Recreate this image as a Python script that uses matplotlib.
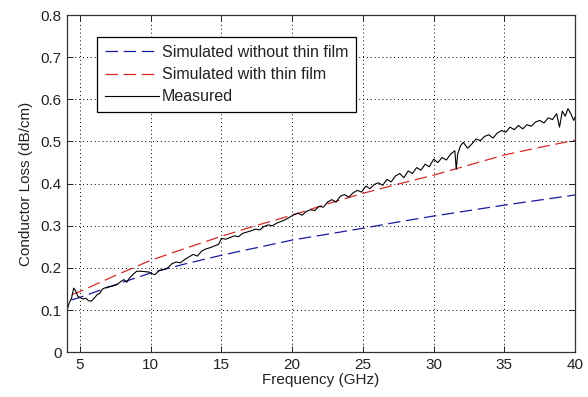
import matplotlib
matplotlib.use('Agg')
import matplotlib.pyplot as plt

plt.rcParams['font.family'] = ['Liberation Sans', 'DejaVu Sans']

# simulated curves
sim_freq = [4.4, 5, 7.5, 10, 12.5, 15, 17.5, 20, 22.5, 25, 27.5, 30, 32.5, 35, 37.5, 40]
sim_no_film = [0.124, 0.130, 0.160, 0.188, 0.210, 0.230, 0.248, 0.266, 0.280,
               0.294, 0.309, 0.323, 0.336, 0.349, 0.361, 0.373]
sim_film = [0.136, 0.144, 0.182, 0.218, 0.247, 0.275, 0.301, 0.325, 0.352,
            0.377, 0.399, 0.420, 0.444, 0.468, 0.486, 0.503]

# measured curve
meas_freq = [4.08, 4.25, 4.4, 4.55, 4.7, 4.85, 5.0, 5.2, 5.4, 5.6, 5.8, 6.0, 6.2, 6.4,
             6.6, 6.8, 7.0, 7.3, 7.6, 7.9, 8.1, 8.3, 8.5, 8.8, 9.0, 9.3, 9.6, 9.9,
             10.1, 10.3, 10.6, 10.9, 11.2, 11.5, 11.8, 12.1, 12.4, 12.7, 13.0, 13.3,
             13.6, 13.9, 14.2, 14.5, 14.8, 15.0, 15.3, 15.6, 15.9, 16.2, 16.5, 16.8,
             17.1, 17.4, 17.7, 18.0, 18.3, 18.6, 18.9, 19.2, 19.5, 19.8, 20.1, 20.4,
             20.7, 21.0, 21.3, 21.6, 21.9, 22.2, 22.5, 22.8, 23.1, 23.4, 23.7, 24.0,
             24.3, 24.6, 24.9, 25.2, 25.5, 25.8, 26.1, 26.4, 26.7, 27.0, 27.3, 27.6,
             27.9, 28.2, 28.5, 28.8, 29.1, 29.4, 29.7, 30.0, 30.3, 30.6, 30.9, 31.2,
             31.5, 31.6, 31.7, 31.9, 32.1, 32.4, 32.7, 33.0, 33.3, 33.6, 33.9, 34.2,
             34.5, 34.8, 35.1, 35.4, 35.7, 36.0, 36.3, 36.6, 36.9, 37.2, 37.5, 37.8,
             38.1, 38.4, 38.7, 38.9, 39.1, 39.3, 39.5, 39.7, 39.9, 40.0]
meas_loss = [0.100, 0.118, 0.128, 0.152, 0.145, 0.132, 0.130, 0.126, 0.128, 0.122,
             0.121, 0.128, 0.136, 0.140, 0.150, 0.153, 0.155, 0.157, 0.160, 0.168,
             0.172, 0.166, 0.176, 0.186, 0.192, 0.192, 0.191, 0.190, 0.186, 0.184,
             0.194, 0.196, 0.200, 0.210, 0.214, 0.212, 0.220, 0.226, 0.232, 0.228,
             0.240, 0.245, 0.248, 0.252, 0.256, 0.270, 0.268, 0.272, 0.276, 0.274,
             0.282, 0.285, 0.288, 0.292, 0.290, 0.298, 0.302, 0.300, 0.306, 0.310,
             0.314, 0.320, 0.326, 0.330, 0.325, 0.334, 0.338, 0.336, 0.346, 0.344,
             0.356, 0.362, 0.356, 0.370, 0.374, 0.368, 0.378, 0.384, 0.380, 0.394,
             0.388, 0.398, 0.402, 0.396, 0.410, 0.404, 0.418, 0.424, 0.414, 0.430,
             0.424, 0.438, 0.432, 0.446, 0.440, 0.458, 0.450, 0.462, 0.456, 0.470,
             0.478, 0.434, 0.470, 0.490, 0.498, 0.484, 0.494, 0.506, 0.502, 0.512,
             0.516, 0.508, 0.520, 0.526, 0.522, 0.534, 0.528, 0.538, 0.530, 0.540,
             0.536, 0.546, 0.550, 0.544, 0.556, 0.552, 0.566, 0.534, 0.572, 0.560,
             0.578, 0.566, 0.550, 0.558]

x_ticks = [5, 10, 15, 20, 25, 30, 35, 40]
y_ticks = [0, 0.1, 0.2, 0.3, 0.4, 0.5, 0.6, 0.7, 0.8]
y_labels = ['0', '0.1', '0.2', '0.3', '0.4', '0.5', '0.6', '0.7', '0.8']

fig = plt.figure(figsize=(5.88, 3.97), dpi=100)
ax = fig.add_axes([0.114, 0.113, 0.864, 0.849])

ax.plot(sim_freq, sim_no_film, '--', color='#1a1aa0', lw=0.9, dashes=(10, 4.5),
        label='Simulated without thin film')
ax.plot(sim_freq, sim_film, '--', color='#d42a2a', lw=0.9, dashes=(10, 4.5),
        label='Simulated with thin film')
ax.plot(meas_freq, meas_loss, '-', color='black', lw=0.8, label='Measured')

ax.set_xlim(4.08, 40)
ax.set_ylim(0, 0.8)
ax.set_xticks(x_ticks)
ax.set_yticks(y_ticks)
ax.set_yticklabels(y_labels)
ax.tick_params(direction='in', top=True, right=True, labelsize=11, length=4, width=0.7,
               colors='#222222', pad=4)
ax.grid(True, linestyle=(0, (1, 3)), color='black', lw=0.7)
for s in ax.spines.values():
    s.set_linewidth(0.9)
    s.set_color('#333333')

ax.set_xlabel('Frequency (GHz)', fontsize=11, labelpad=1, color='#222222')
ax.set_ylabel('Conductor Loss (dB/cm)', fontsize=11, labelpad=5, color='#222222')

leg = ax.legend(loc='upper left', bbox_to_anchor=(0.059, 0.935), borderaxespad=0,
                fontsize=11.5, handlelength=3.4, handletextpad=0.15, labelspacing=0.45,
                fancybox=False, framealpha=1, edgecolor='black', borderpad=0.5)
leg.get_frame().set_linewidth(0.9)
for t in leg.get_texts():
    t.set_color('#222222')

fig.savefig('out.png', dpi=100)
